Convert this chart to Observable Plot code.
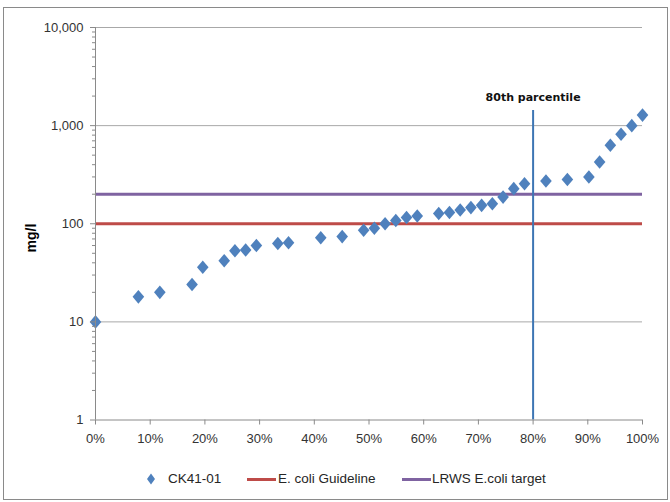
<!DOCTYPE html>
<html>
<head>
<meta charset="utf-8">
<script src="https://cdn.jsdelivr.net/npm/d3@7"></script>
<script src="https://cdn.jsdelivr.net/npm/@observablehq/plot@0.6"></script>
<style>
  html, body { margin: 0; padding: 0; background: #fff; }
  #wrap { position: relative; width: 670px; height: 502px; overflow: hidden; font-family: "Liberation Sans", Arial, sans-serif; }
  #frame { position: absolute; left: 3px; top: 7px; width: 665px; height: 493px; box-sizing: border-box; border: 1px solid #8a8a8a; }
  #chart { position: absolute; left: 0; top: 0; }
  #legend { position: absolute; left: 0; top: 460px; width: 670px; height: 42px; font-size: 13.5px; color: #262626; }
  #legend .item { position: absolute; top: 11px; height: 16px; line-height: 16px; white-space: nowrap; }
  #legend .swatch { position: absolute; top: 18px; height: 3px; }
  #ylabel { position: absolute; left: 31px; top: 238px; transform: translate(-50%, -50%) rotate(-90deg); font-weight: bold; font-size: 14px; color: #000; }
</style>
</head>
<body>
<div id="wrap">
  <div id="frame"></div>
  <div id="chart"></div>
  <div id="ylabel">mg/l</div>
  <div id="legend"></div>
</div>
<script>
// Sample percentile rank (fraction) and measured concentration at site CK41-01
const percentiles = [0, 0.0784, 0.1176, 0.1765, 0.1961, 0.2353, 0.2549, 0.2745, 0.2941, 0.3333,
  0.3529, 0.4118, 0.4510, 0.4902, 0.5098, 0.5294, 0.5490, 0.5686, 0.5882, 0.6275,
  0.6471, 0.6667, 0.6863, 0.7059, 0.7255, 0.7451, 0.7647, 0.7843, 0.8235, 0.8627,
  0.9020, 0.9216, 0.9412, 0.9608, 0.9804, 1];
const values = [10, 18, 20, 24, 36, 42, 53, 54, 60, 63,
  64, 72, 74, 86, 90, 100, 108, 116, 120, 127,
  130, 138, 146, 154, 160, 187, 228, 256, 273, 282,
  300, 426, 630, 816, 1000, 1280];

// Reference levels
const seriesName = "CK41-01";
const guidelineName = "E. coli Guideline";
const guidelineValue = 100;
const targetName = "LRWS E.coli target";
const targetValue = 200;
const percentileMark = 0.8;
const percentileLabel = "80th parcentile";
const percentileLineTop = 1430;
const percentileLabelY = 1950;

// Axis ticks
const yMajor = [1, 10, 100, 1000, 10000];
const yMinor = [2,3,4,5,6,7,8,9].flatMap(m => [1, 10, 100, 1000].map(d => m * d));
const xTicks = [0, 0.1, 0.2, 0.3, 0.4, 0.5, 0.6, 0.7, 0.8, 0.9, 1];

const blue = "#4f81bd";
const red = "#be4b48";
const purple = "#7f63a1";

const data = percentiles.map((p, i) => ({p, v: values[i]}));

// Diamond marker, slightly taller than wide
const diamond = {
  draw(ctx) {
    const w = 5.8, h = 6.8;
    ctx.moveTo(0, -h); ctx.lineTo(w, 0); ctx.lineTo(0, h); ctx.lineTo(-w, 0); ctx.closePath();
  }
};

const chart = Plot.plot({
  width: 670,
  height: 460,
  marginLeft: 95,
  marginRight: 28,
  marginTop: 27,
  marginBottom: 40.5,
  x: {domain: [0, 1]},
  y: {type: "log", domain: [1, 10000]},
  style: {fontFamily: "'Liberation Sans', Arial, sans-serif", fontSize: "13px", color: "#333", background: "transparent", overflow: "visible"},
  marks: [
    Plot.ruleY(yMajor.slice(1), {stroke: "#a8a8a8", strokeWidth: 1}),
    Plot.ruleY([guidelineValue], {stroke: red, strokeWidth: 3}),
    Plot.ruleY([targetValue], {stroke: purple, strokeWidth: 3}),
    Plot.ruleX([percentileMark], {y1: 1, y2: percentileLineTop, stroke: "#3d76b4", strokeWidth: 2}),
    Plot.text([percentileLabel], {x: percentileMark, y: percentileLabelY, text: d => d, fontFamily: "'DejaVu Sans', sans-serif", fontWeight: "bold", fontSize: 11, fill: "#111", textAnchor: "middle"}),
    Plot.dot(data, {x: "p", y: "v", symbol: diamond, fill: blue, stroke: "none", r: 6}),
    Plot.ruleX([0], {stroke: "#8a8a8a"}),
    Plot.ruleY([1], {stroke: "#8a8a8a"}),
    Plot.axisY({ticks: yMajor, tickFormat: d3.format(","), tickSize: 5, tickPadding: 7, label: null, stroke: "#8a8a8a"}),
    Plot.axisY({ticks: yMinor, tickFormat: () => "", tickSize: 3, label: null, stroke: "#8a8a8a"}),
    Plot.axisX({ticks: xTicks, tickFormat: d3.format(".0%"), tickSize: 5, tickPadding: 9, label: null, stroke: "#8a8a8a"})
  ]
});
document.getElementById("chart").appendChild(chart);

// Legend below the plot
const legend = document.getElementById("legend");
const legendItems = [
  {kind: "dot", label: seriesName, color: blue, x: 151, tx: 168},
  {kind: "line", label: guidelineName, color: red, x: 247, tx: 278},
  {kind: "line", label: targetName, color: purple, x: 402, tx: 432}
];
for (const it of legendItems) {
  if (it.kind === "dot") {
    const s = document.createElementNS("http://www.w3.org/2000/svg", "svg");
    s.setAttribute("width", 10); s.setAttribute("height", 12);
    s.style.position = "absolute"; s.style.left = (it.x - 5) + "px"; s.style.top = "13px";
    s.innerHTML = `<path d="M5,0.5L9,6L5,11.5L1,6Z" fill="${it.color}"/>`;
    legend.appendChild(s);
  } else {
    const sw = document.createElement("div");
    sw.className = "swatch";
    sw.style.left = it.x + "px"; sw.style.width = "29px"; sw.style.background = it.color;
    legend.appendChild(sw);
  }
  const t = document.createElement("div");
  t.className = "item";
  t.style.left = it.tx + "px";
  t.textContent = it.label;
  legend.appendChild(t);
}
</script>
</body>
</html>
